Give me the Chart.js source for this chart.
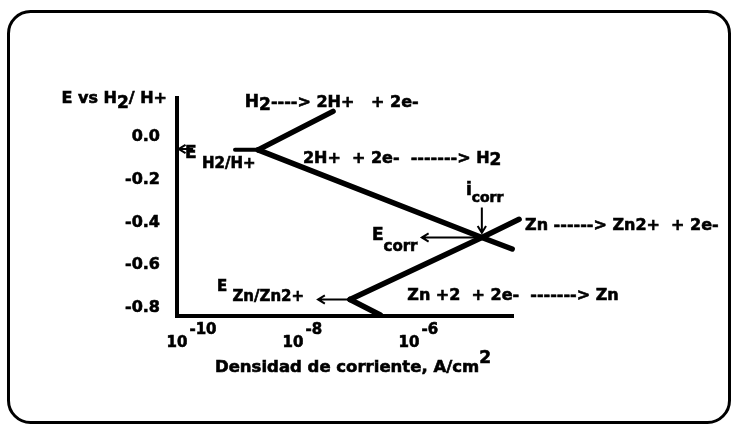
<!DOCTYPE html>
<html>
<head>
<meta charset="utf-8">
<script src="https://cdn.jsdelivr.net/npm/chart.js@4.4.1/dist/chart.umd.min.js"></script>
<style>
  html, body { margin: 0; padding: 0; background: #fff; }
</style>
</head>
<body>
<canvas id="evans" width="735" height="425"></canvas>
<script>
// Evans diagram: zinc corroding in acid, E (V vs H2/H+) against current density
const eH2 = -0.06;     // H2/H+ equilibrium
const eZn = -0.76;     // Zn/Zn2+ equilibrium
const eCorr = -0.47;
const iCorr = 1.8e-5;

// Tafel branches as [current density A/cm2, E]
const h2Stub = [[1e-9, eH2], [2.5e-9, eH2]];
const h2Anodic = [[2.5e-9, eH2], [4.9e-8, 0.12]];
const h2Cathodic = [[2.5e-9, eH2], [iCorr, eCorr], [6e-5, -0.524]];
const znAnodic = [[9.6e-8, eZn], [iCorr, eCorr], [7.9e-5, -0.385]];
const znCathodic = [[9.6e-8, eZn], [3.2e-7, -0.833]];

const xTicks = [1e-10, 1e-8, 1e-6];
const yTicks = [0.0, -0.2, -0.4, -0.6, -0.8];

const FONT = '"DejaVu Sans", Verdana, sans-serif';

// thin pointer arrows, head drawn at "to"
const arrows = [
  { from: [iCorr, eCorr], to: [1.66e-6, eCorr] },
  { from: [iCorr, -0.33], to: [iCorr, -0.448] },
  { from: [9.0e-8, eZn], to: [2.7e-8, eZn] },
  { from: [1.9e-10, eH2 + 0.004], to: [1.07e-10, eH2 + 0.004] }
];

// text pieces: [text, font size, baseline shift]; anchor is [log10 i, E] at left baseline
const notes = [
  { at: [-8.83, 0.140], parts: [['H', 17, 0], ['2', 17, 3], ['----> 2H+   + 2e-', 16, 0]] },
  { at: [-7.83, -0.122], parts: [['2H+  + 2e-  -------> H', 16, 0], ['2', 17, 2]] },
  { at: [-9.86, -0.098], parts: [['E', 17, 0], [' H2/H+', 15, 10]] },
  { at: [-5.02, -0.271], parts: [['i', 17, 0], ['corr', 14, 7]] },
  { at: [-6.64, -0.482], parts: [['E', 17, 0], ['corr', 15, 11]] },
  { at: [-4.0, -0.435], parts: [['Zn ------> Zn2+  + 2e-', 16, 0]] },
  { at: [-9.31, -0.722], parts: [['E', 15, 0], [' Zn/Zn2+', 15, 10]] },
  { at: [-6.03, -0.763], parts: [['Zn +2  + 2e-  -------> Zn', 16, 0]] }
];

function xy(points) {
  return points.map(p => ({ x: p[0], y: p[1] }));
}

// bold text with a thin outline so it reads heavy
function heavyText(ctx, t, x, y) {
  ctx.fillText(t, x, y);
  ctx.strokeText(t, x, y);
}

function drawParts(ctx, x, y, parts) {
  ctx.textAlign = 'left';
  ctx.textBaseline = 'alphabetic';
  parts.forEach(([t, size, dy]) => {
    ctx.font = 'bold ' + size + 'px ' + FONT;
    heavyText(ctx, t, x, y + dy);
    x += ctx.measureText(t).width;
  });
}

function partsWidth(ctx, parts) {
  let w = 0;
  parts.forEach(([t, size]) => {
    ctx.font = 'bold ' + size + 'px ' + FONT;
    w += ctx.measureText(t).width;
  });
  return w;
}

const framePlugin = {
  id: 'frame',
  beforeDraw(chart) {
    const ctx = chart.ctx;
    ctx.save();
    ctx.fillStyle = '#fff';
    ctx.fillRect(0, 0, chart.width, chart.height);
    ctx.strokeStyle = '#000';
    ctx.lineWidth = 3;
    ctx.beginPath();
    ctx.roundRect(8.5, 11.5, 721, 411, 22);
    ctx.stroke();
    ctx.restore();
  }
};

const notesPlugin = {
  id: 'notes',
  afterDraw(chart) {
    const ctx = chart.ctx;
    const xs = chart.scales.x, ys = chart.scales.y;
    const area = chart.chartArea;
    ctx.save();
    ctx.fillStyle = '#000';
    ctx.strokeStyle = '#000';

    // arrows
    ctx.lineWidth = 2;
    arrows.forEach(a => {
      const x1 = xs.getPixelForValue(a.from[0]), y1 = ys.getPixelForValue(a.from[1]);
      const x2 = xs.getPixelForValue(a.to[0]), y2 = ys.getPixelForValue(a.to[1]);
      const ang = Math.atan2(y2 - y1, x2 - x1);
      ctx.beginPath();
      ctx.moveTo(x1, y1);
      ctx.lineTo(x2, y2);
      ctx.moveTo(x2 - 8 * Math.cos(ang - 0.55), y2 - 8 * Math.sin(ang - 0.55));
      ctx.lineTo(x2, y2);
      ctx.lineTo(x2 - 8 * Math.cos(ang + 0.55), y2 - 8 * Math.sin(ang + 0.55));
      ctx.stroke();
    });

    ctx.lineWidth = 0.6;

    // reaction labels
    notes.forEach(n => {
      drawParts(ctx, xs.getPixelForValue(10 ** n.at[0]), ys.getPixelForValue(n.at[1]), n.parts);
    });

    // x tick labels as powers of ten
    xs.ticks.forEach(t => {
      const px = xs.getPixelForValue(t.value);
      const exp = String(Math.round(Math.log10(t.value)));
      ctx.font = 'bold 15px ' + FONT;
      ctx.textAlign = 'center';
      heavyText(ctx, '10', px, area.bottom + 31);
      const w = ctx.measureText('10').width;
      ctx.textAlign = 'left';
      heavyText(ctx, exp, px + w / 2 + 2, area.bottom + 18);
    });

    // axis titles
    const yTitle = [['E vs H', 16, 0], ['2', 17, 5], ['/ H+', 16, 0]];
    drawParts(ctx, area.left - 10 - partsWidth(ctx, yTitle), area.top + 5, yTitle);
    const xTitle = [['Densidad de corriente, A/cm', 16.5, 0], ['2', 17, -9]];
    const cx = (area.left + area.right) / 2 + 8;
    drawParts(ctx, cx - partsWidth(ctx, xTitle) / 2, area.bottom + 56, xTitle);
    ctx.restore();
  }
};

const line = (pts) => ({
  data: xy(pts),
  showLine: true,
  borderColor: '#000',
  borderWidth: 5.5,
  borderCapStyle: 'round',
  pointRadius: 0,
  clip: false
});

new Chart(document.getElementById('evans'), {
  type: 'scatter',
  data: {
    datasets: [
      { ...line(h2Stub), borderWidth: 4 },
      line(h2Anodic),
      line(h2Cathodic),
      line(znAnodic),
      line(znCathodic)
    ]
  },
  options: {
    responsive: false,
    animation: false,
    devicePixelRatio: 1,
    layout: { padding: { top: 98, right: 222, left: 0, bottom: 0 } },
    plugins: { legend: { display: false }, tooltip: { enabled: false } },
    scales: {
      x: {
        type: 'logarithmic',
        min: 1e-10,
        max: 6.2e-5,
        grid: { display: false },
        border: { display: true, color: '#000', width: 4 },
        ticks: { display: false },
        afterBuildTicks: s => { s.ticks = xTicks.map(v => ({ value: v })); },
        afterFit: s => { s.height = 109; }
      },
      y: {
        type: 'linear',
        min: -0.8374,
        max: 0.1825,
        grid: { display: false, drawTicks: false },
        border: { display: true, color: '#000', width: 4 },
        ticks: {
          color: '#000',
          padding: 17,
          textStrokeColor: '#000',
          textStrokeWidth: 0.6,
          font: { family: FONT, size: 16, weight: 'bold' },
          callback: v => v.toFixed(1)
        },
        afterBuildTicks: s => { s.ticks = yTicks.map(v => ({ value: v })); },
        afterFit: s => { s.width = 177; }
      }
    }
  },
  plugins: [framePlugin, notesPlugin]
});
</script>
</body>
</html>
